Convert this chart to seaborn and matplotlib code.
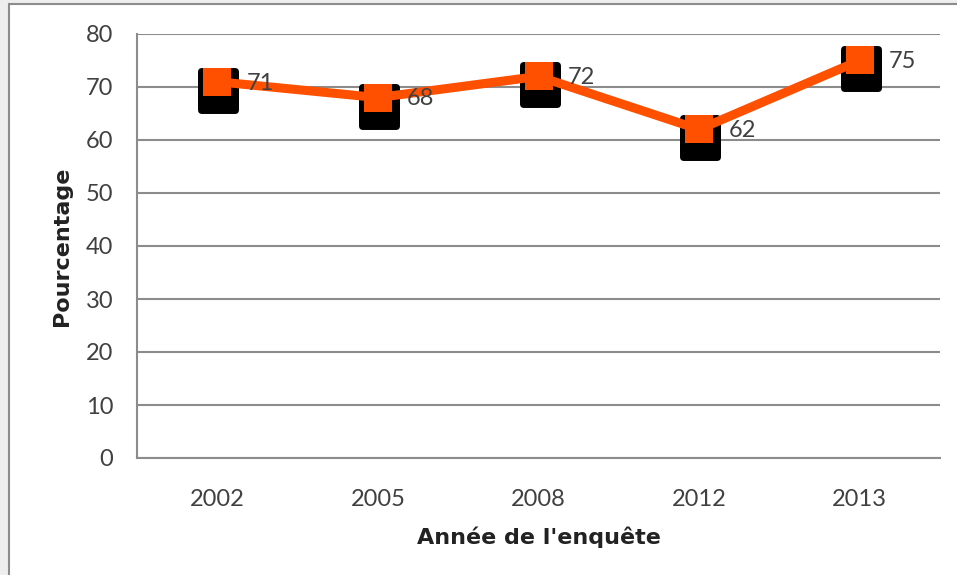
import matplotlib
matplotlib.use("Agg")
import matplotlib.pyplot as plt
import matplotlib.transforms as mtransforms
from matplotlib.markers import MarkerStyle
from matplotlib.patches import Rectangle
import seaborn as sns
import pandas as pd

# data
years = ["2002", "2005", "2008", "2012", "2013"]
pourcentage = [71, 68, 72, 62, 75]

df = pd.DataFrame({"annee": years, "pct": pourcentage})

sns.set_style("white")
plt.rcParams["font.family"] = ["Lato", "DejaVu Sans"]

orange = "#ff5000"
grey_txt = "#404040"
grey_line = "#8c8c8c"

fig = plt.figure(figsize=(9.57, 5.75), dpi=100, facecolor="#eeeeee")
# white chart frame with grey border
fig.patches.append(Rectangle((9 / 957, -0.05), 1.1, 1.05 - 4 / 575,
                             transform=fig.transFigure, facecolor="white",
                             edgecolor=grey_line, linewidth=1.5, zorder=-10))
ax = fig.add_axes([137 / 957, 1 - 458 / 575, (940 - 137) / 957, (458 - 34) / 575])
ax.set_facecolor("none")

# black "shadow" behind each marker (two stacked rounded squares)
for dy in (6, 11):
    shadow = ax.transData + mtransforms.ScaledTranslation(1 / 100, -dy / 100, fig.dpi_scale_trans)
    ax.plot(df["annee"], df["pct"], linestyle="none",
            marker=MarkerStyle("s", joinstyle="round"), markersize=25,
            markerfacecolor="black", markeredgecolor="black", markeredgewidth=5,
            transform=shadow, zorder=3)

sns.lineplot(data=df, x="annee", y="pct", color=orange, linewidth=6.5,
             marker="s", markersize=20, markeredgewidth=0, ax=ax, zorder=4)

for i, v in enumerate(pourcentage):
    ax.annotate(str(v), (i, v), xytext=(21, -1), textcoords="offset points",
                ha="left", va="center", fontsize=17, color=grey_txt, zorder=5)

ax.set_ylim(0, 80)
ax.set_xlim(-0.5, len(years) - 0.5)
ax.set_yticks(range(0, 81, 10))
ax.yaxis.grid(True, color=grey_line, linewidth=1.5)
ax.set_axisbelow(True)

ax.set_xticks([i - 0.5 for i in range(len(years) + 1)], minor=True)
ax.tick_params(axis="x", which="major", length=0, pad=22, labelsize=17, labelcolor=grey_txt)
ax.tick_params(axis="x", which="minor", length=7, width=1.5, color=grey_line, direction="out")
ax.tick_params(axis="y", length=7, width=1.5, color=grey_line, direction="out",
               pad=10, labelsize=17, labelcolor=grey_txt)

for s in ["top", "right"]:
    ax.spines[s].set_visible(False)
for s in ["left", "bottom"]:
    ax.spines[s].set_color(grey_line)
    ax.spines[s].set_linewidth(1.5)

ax.set_xlabel("Année de l'enquête", fontsize=16, fontweight="bold", color="#222222",
              labelpad=12, family=["DejaVu Sans"])
ax.set_ylabel("Pourcentage", fontsize=16, fontweight="bold", color="#222222",
              labelpad=10, family=["DejaVu Sans"])

fig.savefig("out.png", dpi=100, facecolor=fig.get_facecolor())
